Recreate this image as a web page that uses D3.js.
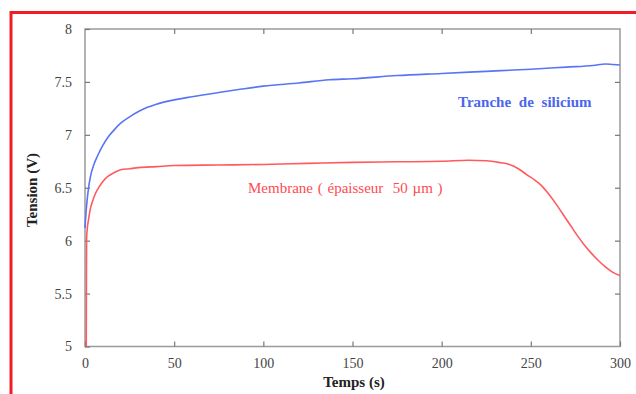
<!DOCTYPE html>
<html><head><meta charset="utf-8">
<script src="https://cdn.jsdelivr.net/npm/d3@7"></script>
<style>body{margin:0;background:#fff}svg{display:block}</style>
</head><body>
<script>
const xTicks = [0, 50, 100, 150, 200, 250, 300];
const yTicks = [5, 5.5, 6, 6.5, 7, 7.5, 8];
const yTickLabels = ["5", "5.5", "6", "6.5", "7", "7.5", "8"];
const siliconTime = [0, 0.5, 1, 2, 3, 5, 7, 10, 13, 16, 20, 25, 30, 35, 40, 50, 60, 75, 87, 100, 120, 137, 150, 175, 200, 225, 250, 270, 285, 292, 296, 300];
const siliconV = [6.12, 6.25, 6.35, 6.5, 6.6, 6.72, 6.8, 6.9, 6.98, 7.04, 7.11, 7.17, 7.22, 7.26, 7.29, 7.33, 7.36, 7.40, 7.43, 7.46, 7.49, 7.52, 7.53, 7.56, 7.58, 7.60, 7.62, 7.64, 7.655, 7.67, 7.665, 7.66];
const membraneTime = [0.7, 0.8, 0.9, 1.2, 2, 3, 4, 6, 8, 10, 13, 16, 20, 25, 30, 40, 50, 75, 100, 125, 150, 175, 200, 215, 225, 232, 238, 243, 248, 252, 256, 260, 264, 268, 272, 276, 280, 284, 288, 292, 296, 300];
const membraneV = [5.0, 5.6, 6.02, 6.1, 6.2, 6.3, 6.36, 6.45, 6.51, 6.56, 6.61, 6.64, 6.67, 6.68, 6.69, 6.70, 6.71, 6.715, 6.72, 6.73, 6.74, 6.745, 6.75, 6.76, 6.755, 6.74, 6.72, 6.68, 6.62, 6.575, 6.52, 6.44, 6.35, 6.25, 6.15, 6.05, 5.96, 5.88, 5.81, 5.75, 5.70, 5.67];
const seriesNames = ["Tranche de silicium", "Membrane ( épaisseur  50 µm )"];
const xTitle = "Temps (s)";
const yTitle = "Tension (V)";

const W = 636, H = 394;
const svg = d3.select("body").append("svg").attr("width", W).attr("height", H);
const x = d3.scaleLinear().domain([0, 300]).range([85, 620]);
const y = d3.scaleLinear().domain([5, 8]).range([346.5, 29]);
const font = "'Liberation Serif', 'Times New Roman', serif";
const axisCol = "#9a9a9a";

// red frame
svg.append("rect").attr("x", 11).attr("y", 12.5).attr("width", 640).attr("height", 400)
  .attr("fill", "none").attr("stroke", "#f01d24").attr("stroke-width", 3);

// plot box
svg.append("rect").attr("x", x(0)).attr("y", y(8)).attr("width", x(300) - x(0)).attr("height", y(5) - y(8))
  .attr("fill", "none").attr("stroke", axisCol).attr("stroke-width", 1.5);

const tl = 5;
const axisStyle = g => {
  g.attr("font-family", font).attr("font-size", 14);
  g.select(".domain").remove();
  g.selectAll(".tick line").attr("stroke", "#777").attr("stroke-width", 1.2);
  g.selectAll(".tick text").attr("fill", "#444").style("font-family", font).style("font-size", "14px");
};
svg.append("g").attr("transform", `translate(0,${y(5)})`)
  .call(d3.axisBottom(x).tickValues(xTicks).tickSize(-tl).tickPadding(12).tickFormat(d3.format("d")))
  .call(axisStyle);
svg.append("g").attr("transform", `translate(0,${y(8)})`)
  .call(d3.axisTop(x).tickValues(xTicks.slice(1, -1)).tickSize(-tl).tickFormat(""))
  .call(axisStyle);
svg.append("g").attr("transform", `translate(${x(0)},0)`)
  .call(d3.axisLeft(y).tickValues(yTicks).tickSize(-tl).tickPadding(13).tickFormat((d, i) => yTickLabels[i]))
  .call(axisStyle);
svg.append("g").attr("transform", `translate(${x(300)},0)`)
  .call(d3.axisRight(y).tickValues(yTicks.slice(1, -1)).tickSize(-tl).tickFormat(""))
  .call(axisStyle);

const line = d3.line().x(d => x(d[0])).y(d => y(d[1])).curve(d3.curveMonotoneX);
svg.append("path").datum(siliconTime.map((t, i) => [t, siliconV[i]]))
  .attr("d", line).attr("fill", "none").attr("stroke", "#5a74f6").attr("stroke-width", 1.6);
svg.append("path").datum(membraneTime.map((t, i) => [t, membraneV[i]]))
  .attr("d", line).attr("fill", "none").attr("stroke", "#ff5a5e").attr("stroke-width", 1.6);

svg.append("text").attr("x", 458).attr("y", 107).text(seriesNames[0])
  .attr("fill", "#4a66ee").style("font-family", font).style("font-weight", "bold")
  .style("font-size", "15px").style("word-spacing", "4px");
svg.append("text").attr("x", 248).attr("y", 193).text(seriesNames[1])
  .attr("fill", "#ff4a50").style("font-family", font).style("font-size", "15px").style("word-spacing", "1px")
  .style("white-space", "pre");

svg.append("text").attr("x", 354).attr("y", 387).attr("text-anchor", "middle").text(xTitle)
  .attr("fill", "#222").style("font-family", font).style("font-weight", "bold").style("font-size", "15px");
svg.append("text").attr("transform", "translate(37,190) rotate(-90)").attr("text-anchor", "middle").text(yTitle)
  .attr("fill", "#222").style("font-family", font).style("font-weight", "bold").style("font-size", "15px");
</script>
</body></html>
